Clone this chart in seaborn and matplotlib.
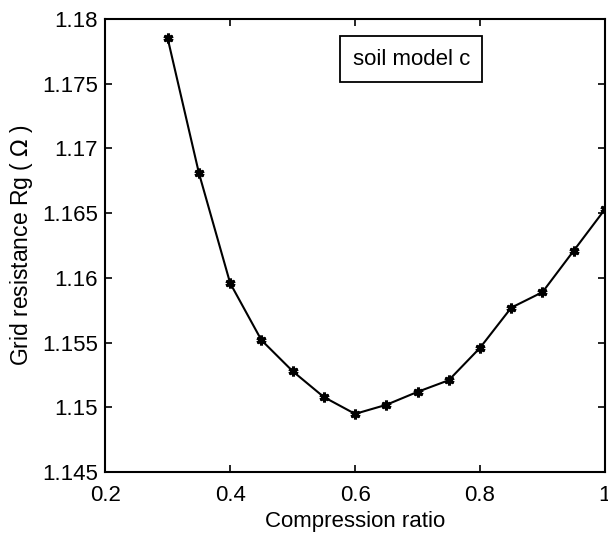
import matplotlib
matplotlib.use("Agg")
import matplotlib.pyplot as plt
import pandas as pd
import seaborn as sns
from matplotlib.ticker import FuncFormatter, MultipleLocator

# values
ratio = [0.30, 0.35, 0.40, 0.45, 0.50, 0.55, 0.60, 0.65, 0.70, 0.75,
         0.80, 0.85, 0.90, 0.95, 1.00]
rg = [1.1785, 1.1681, 1.1596, 1.1552, 1.1528, 1.1508, 1.1495, 1.1502,
      1.1512, 1.1521, 1.1546, 1.1577, 1.1589, 1.1621, 1.1653]
note = "soil model c"

sns.set_style("ticks")
plt.rcParams["font.family"] = ["Liberation Sans", "DejaVu Sans"]
plt.rcParams["text.color"] = "black"
plt.rcParams["axes.labelcolor"] = "black"

df = pd.DataFrame({"ratio": ratio, "rg": rg})

fig = plt.figure(figsize=(6.08, 5.39), dpi=100)
ax = fig.add_axes([0.173, 0.124, 0.822, 0.841])

sns.lineplot(data=df, x="ratio", y="rg", ax=ax, color="black", linewidth=1.5,
             marker=(6, 2, 0), markersize=7, markeredgewidth=2.2,
             markeredgecolor="black", markerfacecolor="black")

ax.set_xlim(0.2, 1.0)
ax.set_ylim(1.145, 1.18)
ax.xaxis.set_major_locator(MultipleLocator(0.2))
ax.yaxis.set_major_locator(MultipleLocator(0.005))
fmt = FuncFormatter(lambda v, _: f"{v:.3f}".rstrip("0").rstrip("."))
ax.xaxis.set_major_formatter(fmt)
ax.yaxis.set_major_formatter(fmt)
ax.tick_params(direction="in", length=5, width=1.2, labelsize=16,
               top=True, right=True, colors="black")
ax.tick_params(axis="y", pad=5)
ax.tick_params(axis="x", pad=9)
for s in ax.spines.values():
    s.set_linewidth(1.5)
    s.set_color("black")

ax.set_xlabel("Compression ratio", fontsize=16, labelpad=4)
ax.set_ylabel("Grid resistance Rg ( $\\Omega$ )", fontsize=16.5, labelpad=5)

ax.text(0.69, 1.1769, note, fontsize=16, ha="center", va="center",
        bbox=dict(boxstyle="square,pad=0.55", facecolor="white",
                  edgecolor="black", linewidth=1.3))

fig.savefig("out.png", dpi=100)
